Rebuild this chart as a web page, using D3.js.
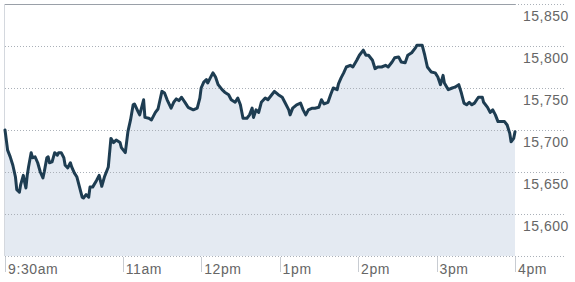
<!DOCTYPE html>
<html><head><meta charset="utf-8">
<script src="https://cdn.jsdelivr.net/npm/d3@7"></script>
<style>
html,body{margin:0;padding:0;background:#fff;}
svg{display:block;font-family:"Liberation Sans",Arial,sans-serif;}
</style></head>
<body><svg id="chart" width="575" height="282"></svg>
<script>
// minutes after 9:30am
const minutes = [0,2,4,6,8,9,11,12,14,15,16,17,18,20,21,23,25,27,29,30,32,33,34,36,38,40,41,43,45,46,48,50,51,53,55,57,59,60,62,64,65,67,70,72,74,76,79,81,83,85,88,89,92,94,96,98,99,102,103,106,107,110,112,115,117,120,122,124,127,129,131,133,135,138,140,144,147,149,150,152,154,155,157,159,161,163,166,168,171,173,176,178,180,182,185,187,189,190,192,194,196,199,201,204,206,209,212,214,217,218,220,223,226,228,230,232,235,237,240,242,244,247,249,251,254,255,257,259,261,264,266,269,271,274,276,278,281,283,285,288,291,293,296,298,301,303,306,308,311,314,315,319,321,323,325,326,329,331,333,335,336,339,342,344,347,349,351,353,355,357,359,362,365,366,369,371,373,375,377,379,382,384,386,387,389,390];
const values = [15700,15676,15668,15658,15644,15629,15626,15635,15646,15638,15631,15646,15656,15673,15667,15668,15661,15650,15643,15650,15667,15668,15661,15662,15673,15670,15673,15673,15667,15658,15655,15661,15656,15649,15644,15632,15620,15619,15623,15620,15632,15632,15640,15646,15633,15644,15656,15690,15685,15688,15685,15679,15673,15698,15712,15730,15731,15721,15718,15736,15715,15714,15712,15721,15725,15746,15744,15736,15726,15733,15737,15735,15739,15732,15727,15724,15726,15738,15750,15757,15760,15756,15762,15768,15763,15754,15748,15745,15742,15736,15733,15738,15730,15714,15714,15718,15726,15715,15724,15721,15733,15738,15736,15742,15746,15742,15739,15733,15724,15718,15726,15730,15732,15724,15718,15724,15726,15726,15727,15736,15731,15733,15742,15750,15748,15755,15762,15768,15775,15777,15775,15783,15789,15795,15789,15789,15783,15773,15775,15775,15777,15775,15781,15786,15787,15781,15780,15789,15792,15798,15801,15801,15789,15775,15771,15769,15768,15763,15754,15765,15756,15748,15750,15751,15754,15744,15732,15730,15733,15730,15732,15739,15739,15733,15727,15721,15724,15718,15710,15710,15710,15706,15696,15686,15690,15698];
const yTicks = [15600,15650,15700,15750,15800,15850];
const xTickMinutes = [0,90,150,210,270,330,390];
const xTickLabels = ["9:30am","11am","12pm","1pm","2pm","3pm","4pm"];

const start = new Date(2013,10,1,9,30);
const t = m => new Date(start.getTime() + m*60000);
const data = minutes.map((m,i)=>({date:t(m), value:values[i]}));

const svg = d3.select("#chart");
const x = d3.scaleTime().domain([t(0), t(390)]).range([5,515]);
const y = d3.scaleLinear().domain([15550,15850]).range([256,4]);

// fill area
svg.append("path").datum(data)
  .attr("fill","#e4eaf2")
  .attr("d", d3.area().x(d=>x(d.date)).y0(y(15550)).y1(d=>y(d.value)));

// gridlines (dotted)
svg.append("g").selectAll("line").data(yTicks.filter(v=>v<15850)).join("line")
  .attr("x1",5).attr("x2",566)
  .attr("y1",d=>y(d)+0.5).attr("y2",d=>y(d)+0.5)
  .attr("stroke","#aab0b8").attr("stroke-width",1).attr("stroke-dasharray","1,2");
// bottom dotted line
svg.append("line").attr("x1",5).attr("x2",566)
  .attr("y1",y(15550)+0.5).attr("y2",y(15550)+0.5)
  .attr("stroke","#aab0b8").attr("stroke-dasharray","1,2");
// top line
svg.append("line").attr("x1",5).attr("x2",515)
  .attr("y1",y(15850)+0.5).attr("y2",y(15850)+0.5).attr("stroke","#9aa0a8");
svg.append("line").attr("x1",515).attr("x2",566)
  .attr("y1",y(15850)+0.5).attr("y2",y(15850)+0.5)
  .attr("stroke","#aab0b8").attr("stroke-dasharray","1,2");
// left edge
svg.append("line").attr("x1",4.5).attr("x2",4.5).attr("y1",4).attr("y2",256)
  .attr("stroke","#d4d8de");

// line
svg.append("path").datum(data)
  .attr("fill","none").attr("stroke","#1e3d52").attr("stroke-width",3)
  .attr("stroke-linejoin","round").attr("stroke-linecap","round")
  .attr("d", d3.line().x(d=>x(d.date)).y(d=>y(d.value)));

// y labels
svg.append("g").selectAll("text").data(yTicks).join("text")
  .attr("x",523).attr("y",d=>y(d)+17)
  .attr("font-size",14).attr("letter-spacing",0.5).attr("fill","#666")
  .text(d=>d3.format(",")(d));

// x ticks and labels
const xg = svg.append("g");
xg.selectAll("line").data(xTickMinutes).join("line")
  .attr("x1",m=>Math.round(x(t(m)))+0.5).attr("x2",m=>Math.round(x(t(m)))+0.5)
  .attr("y1",257).attr("y2",272).attr("stroke","#c8ccd2");
xg.selectAll("text").data(xTickMinutes).join("text")
  .attr("x",m=>x(t(m))+3).attr("y",274)
  .attr("font-size",14).attr("letter-spacing",0.6).attr("fill","#666")
  .text((m,i)=>xTickLabels[i]);
</script></body></html>
